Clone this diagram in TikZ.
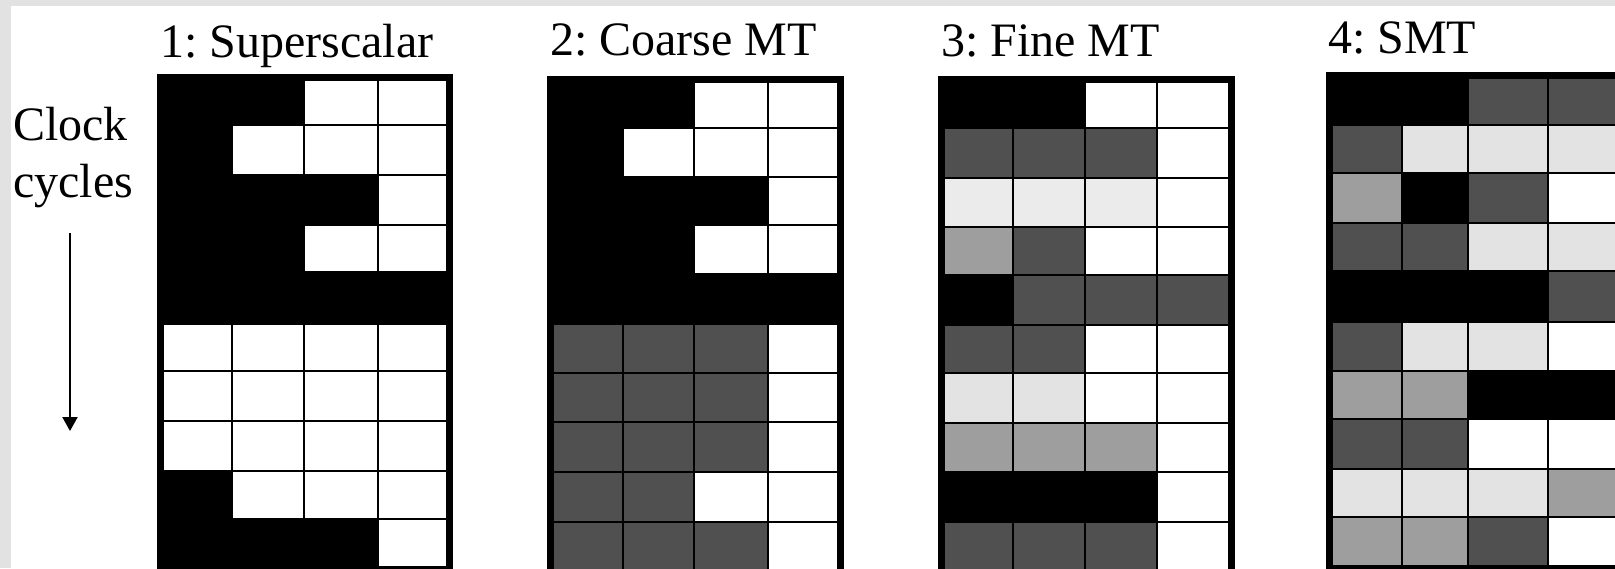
\documentclass[tikz,border=0pt]{standalone}
\usepackage{fontspec}
\setmainfont{Liberation Serif}
\usetikzlibrary{arrows.meta}
\frenchspacing
\definecolor{slideframe}{HTML}{E2E2E2}
\definecolor{slotK}{HTML}{000000}
\definecolor{slotW}{HTML}{FFFFFF}
\definecolor{slotD}{HTML}{505050}
\definecolor{slotM}{HTML}{9E9E9E}
\definecolor{slotL}{HTML}{E3E3E3}
\definecolor{slotP}{HTML}{EBEBEB}
\tikzset{
  slotframe/.style={fill=black},
  slotcell/.style={draw=black,line width=1.6pt},
  gridtitle/.style={anchor=base west,inner sep=0pt,font=\fontsize{48}{57}\selectfont},
  cycarrow/.style={-{Triangle[width=15pt,length=14pt]},line width=2pt},
}
% #1 column edges, #2 row edges, #3 slot codes row by row
\newcommand{\slotgrid}[3]{%
  \pgfmathsetmacro\gridL{#1[0]-6}
  \pgfmathsetmacro\gridR{#1[4]+6}
  \pgfmathsetmacro\gridT{#2[0]-6}
  \fill[slotframe] (\gridL,\gridT) rectangle (\gridR,600);
  \foreach \slot [count=\idx from 0] in {#3} {
    \pgfmathtruncatemacro\slotcol{mod(\idx,4)}
    \pgfmathtruncatemacro\slotcolB{\slotcol+1}
    \pgfmathtruncatemacro\slotrow{int(\idx/4)}
    \pgfmathtruncatemacro\slotrowB{\slotrow+1}
    \pgfmathsetmacro\xa{#1[\slotcol]}
    \pgfmathsetmacro\xb{#1[\slotcolB]}
    \pgfmathsetmacro\ya{#2[\slotrow]}
    \pgfmathsetmacro\yb{#2[\slotrowB]}
    \filldraw[slotcell,fill=slot\slot] (\xa,\ya) rectangle (\xb,\yb);
  }
}

\begin{document}
\begin{tikzpicture}[x=1pt,y=-1pt]
  \useasboundingbox (0,0) rectangle (1615,568);
  \clip (0,0) rectangle (1615,568);
  \fill[slideframe] (0,0) rectangle (1615,568);
  \fill[white] (11,6) rectangle (1615,568);

  % time axis
  \node[gridtitle] (clock) at (13,140) {Clock};
  \node[gridtitle] (cycles) at (13,197) {cycles};
  \coordinate (cyctop) at (70,233);
  \coordinate (cycbot) at (70,431);
  \draw[cycarrow] (cyctop) -- (cycbot);

  % titles
  \node[gridtitle] (superscalar) at (160,57) {1: Superscalar};
  \node[gridtitle] (coarse) at (550,55) {2: Coarse MT};
  \node[gridtitle] (fine) at (941,56) {3: Fine MT};
  \node[gridtitle] (smt) at (1328,53) {4: SMT};

  % issue slots
  \slotgrid{{163,232,304,378,447}}{{80,125,175,225,272,324,371,421,471,519,567}}
    {K,K,W,W, K,W,W,W, K,K,K,W, K,K,W,W, K,K,K,K,
     W,W,W,W, W,W,W,W, W,W,W,W, K,W,W,W, K,K,K,W}
  \slotgrid{{553,623,694,768,838}}{{82,128,177,225,274,324,373,422,472,522,571}}
    {K,K,W,W, K,W,W,W, K,K,K,W, K,K,W,W, K,K,K,K,
     D,D,D,W, D,D,D,W, D,D,D,W, D,D,W,W, D,D,D,W}
  \slotgrid{{944,1013,1085,1157,1229}}{{82,128,178,227,275,325,373,423,472,522,571}}
    {K,K,W,W, D,D,D,W, P,P,P,W, M,D,W,W, K,D,D,D,
     D,D,W,W, L,L,W,W, M,M,M,W, K,K,K,W, D,D,D,W}
  \slotgrid{{1332,1402,1468,1548,1622}}{{78,125,173,223,271,322,371,419,469,517,566}}
    {K,K,D,D, D,L,L,L, M,K,D,W, D,D,L,L, K,K,K,D,
     D,L,L,W, M,M,K,K, D,D,W,W, L,L,L,M, M,M,D,W}
\end{tikzpicture}
\end{document}
